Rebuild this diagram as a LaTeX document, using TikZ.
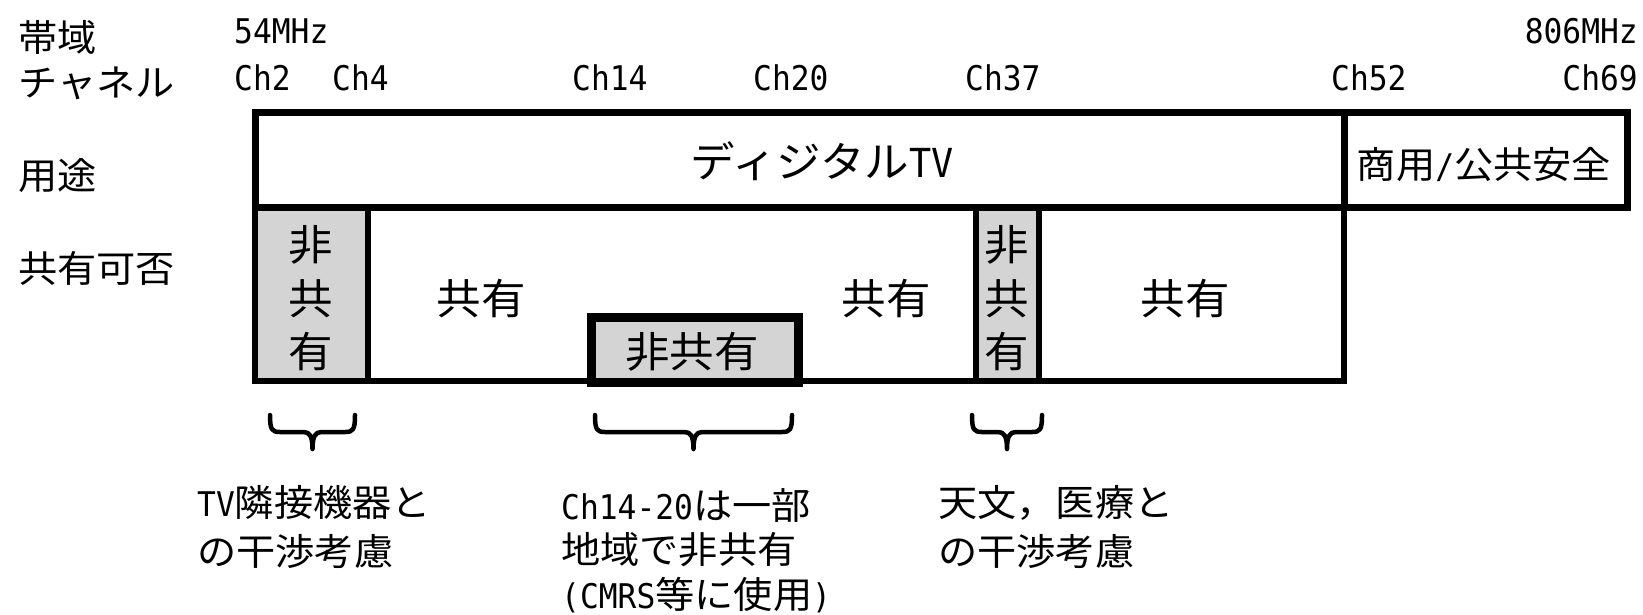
\documentclass[tikz,border=0pt]{standalone}
\usepackage{fontspec}
\newfontfamily\jpf[FakeStretch=1.06]{Noto Sans CJK JP}
\newfontfamily\ltf[FakeStretch=0.92]{DejaVu Sans Mono}
\newcommand\latn[1]{{\ltf\fontsize{34}{40}\selectfont #1}}
\newcommand\latb[1]{{\ltf\fontsize{40}{46}\selectfont #1}}
\definecolor{grayfill}{RGB}{212,212,212}
\tikzset{
  lbl/.style={inner sep=0pt, font={\jpf\fontsize{37}{44}\selectfont}, text height=30.5pt, text depth=2.5pt},
  biglbl/.style={inner sep=0pt, font={\jpf\fontsize{42}{50}\selectfont}, text height=35pt, text depth=3pt},
  num/.style={inner sep=0pt, font={\ltf\fontsize{34}{40}\selectfont}},
  frame/.style={line width=7pt},
  rowline/.style={line width=6pt},
  cellline/.style={line width=6pt},
  hilite/.style={fill=grayfill, draw=black, line width=9pt},
  bracestyle/.style={line width=4.5pt, line join=round, line cap=round},
}
\newcommand\ubrace[2]{%
  \pgfmathsetmacro\bcx{(#1+#2)/2}%
  \draw[bracestyle] (#1,415) .. controls (#1,430) and (#1+2,432) .. (#1+10,432)
    -- (\bcx-9,432) .. controls (\bcx-3,432) and (\bcx,436) .. (\bcx,449)
    .. controls (\bcx,436) and (\bcx+3,432) .. (\bcx+9,432)
    -- (#2-10,432) .. controls (#2-2,432) and (#2,430) .. (#2,415);}
\begin{document}
\begin{tikzpicture}[x=1pt,y=-1pt]
\useasboundingbox (0,0) rectangle (1643,614);
% gray cells
\fill[grayfill] (255,207) rectangle (368,381);
\fill[grayfill] (976,207) rectangle (1039,381);
% lower row
\draw[rowline] (255,207) -- (255,381) -- (1344,381) -- (1344,207);
\draw[cellline] (368,207) -- (368,381);
\draw[cellline] (976,207) -- (976,381);
\draw[cellline] (1039,207) -- (1039,381);
% top box
\draw[frame] (255,112) rectangle (1627,207);
\draw[frame] (1344,112) -- (1344,207);
% center non-shared box
\draw[hilite] (591.5,317.5) rectangle (798.5,382.5);

% row labels
\node[lbl, anchor=west] (rband) at (18,37.5) {帯域};
\node[lbl, anchor=west] (rch) at (18,82) {チャネル};
\node[lbl, anchor=west] (ruse) at (18,175) {用途};
\node[lbl, anchor=west] (rshare) at (18,268) {共有可否};

% frequency / channel labels
\node[num, anchor=base west] (f54) at (234,43) {54MHz};
\node[num, anchor=base east] (f806) at (1638,43) {806MHz};
\node[num, anchor=base west] (c2) at (234,90) {Ch2};
\node[num, anchor=base west] (c4) at (332,90) {Ch4};
\node[num, anchor=base west] (c14) at (572,90) {Ch14};
\node[num, anchor=base west] (c20) at (753,90) {Ch20};
\node[num, anchor=base west] (c37) at (965,90) {Ch37};
\node[num, anchor=base west] (c52) at (1331,90) {Ch52};
\node[num, anchor=base east] (c69) at (1638,90) {Ch69};

% box labels
\node[biglbl] (dtv) at (822,161) {ディジタル\latb{TV}};
\node[lbl] (pub) at (1484,164) {商用\latn{/}公共安全};
\node[biglbl] (s1) at (481,298) {共有};
\node[biglbl] (s2) at (886,298) {共有};
\node[biglbl] (s3) at (1185,298) {共有};
\node[biglbl] (ns) at (692,351) {非共有};
\node[biglbl] (la) at (311,244) {非};
\node[biglbl] (lb) at (311,298) {共};
\node[biglbl] (lc) at (311,351) {有};
\node[biglbl] (ra) at (1007,244) {非};
\node[biglbl] (rb) at (1007,298) {共};
\node[biglbl] (rc) at (1007,351) {有};

% braces
\ubrace{270}{355}
\ubrace{595}{792}
\ubrace{972}{1042}

% annotations
\node[lbl, anchor=west] (n1a) at (197,502) {\latn{TV}隣接機器と};
\node[lbl, anchor=west] (n1b) at (197,551) {の干渉考慮};
\node[lbl, anchor=west] (n2a) at (561,505) {\latn{Ch14-20}は一部};
\node[lbl, anchor=west] (n2b) at (561,549) {地域で非共有};
\node[lbl, anchor=west] (n2c) at (561,594) {\latn{(CMRS}等に使用\latn{)}};
\node[lbl, anchor=west] (n3a) at (938,502) {天文，医療と};
\node[lbl, anchor=west] (n3b) at (938,551) {の干渉考慮};
\end{tikzpicture}
\end{document}
